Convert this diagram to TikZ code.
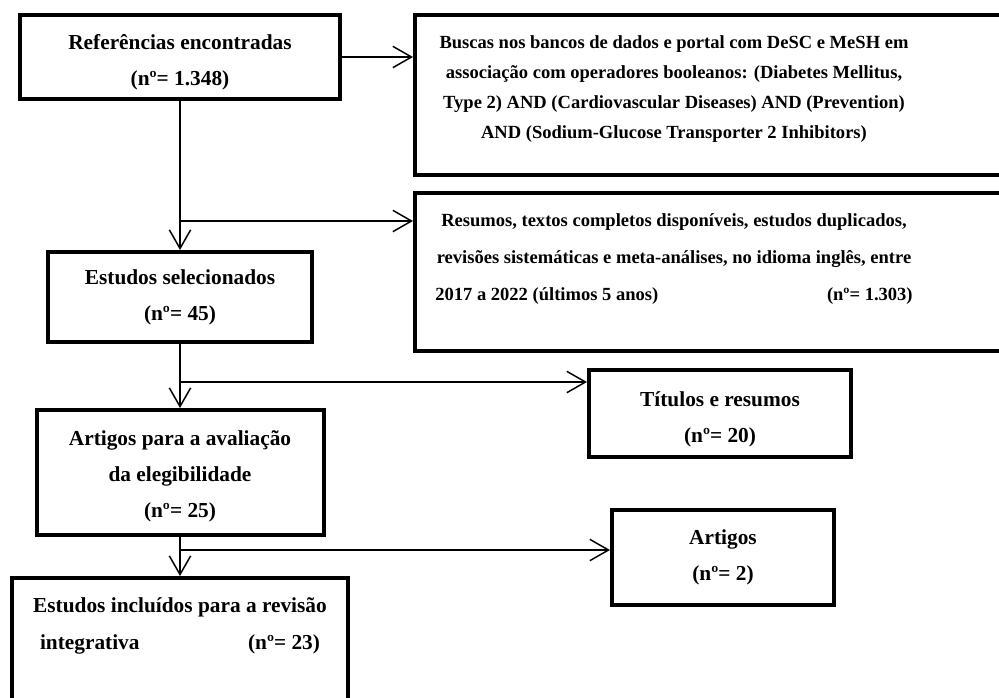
\documentclass[tikz,border=0pt]{standalone}
\usepackage{fontspec}
\setmainfont{Liberation Serif}
\usetikzlibrary{arrows.meta,positioning}
\newcommand{\pxu}{0.75pt}

\begin{document}
\begin{tikzpicture}[x=0.75pt, y=-0.75pt,
    box/.style={draw, line width=3pt, inner sep=0pt, align=center,
        font=\bfseries\fontsize{16}{27}\selectfont},
    widebox/.style={draw, line width=3pt, inner sep=0pt,
        font=\bfseries\fontsize{13.9}{22.5}\selectfont},
    flow/.style={-{Straight Barb[length=14pt,width=16pt]}, line width=1.1pt}]

        \useasboundingbox (0,0) rectangle (999,697);
        \clip (0,0) rectangle (999,697);

        % Left column
        \node[box, minimum width=320*\pxu, minimum height=84*\pxu] (Ref) at (180,57)
            {\rule{0pt}{19.5pt}Referências encontradas\\(nº= 1.348)};
        \node[box, minimum width=264*\pxu, minimum height=90*\pxu] (Sel) at (180,297)
            {Estudos selecionados\\(nº= 45)};
        \node[box, minimum width=287*\pxu, minimum height=125*\pxu] (Eleg) at (180,472.5)
            {\rule{0pt}{17.5pt}Artigos para a avaliação\\da elegibilidade\\(nº= 25)};
        \node[box, minimum width=336*\pxu, minimum height=128*\pxu,
            font=\bfseries\fontsize{16}{27.75}\selectfont] (Incl) at (180,642)
            {Estudos incluídos para a revisão\\
             \makebox[210pt]{integrativa\hfill(nº= 23)}\\ \mbox{}};

        % Right column
        \node[widebox, minimum width=595*\pxu, minimum height=160*\pxu] (Busca) at (712.5,95)
            {\begin{minipage}{358pt}\centering
             Buscas nos bancos de dados e portal com DeSC e MeSH em\\
             associação com operadores booleanos: (Diabetes Mellitus,\\
             Type 2) AND (Cardiovascular Diseases) AND (Prevention)\\
             AND (Sodium-Glucose Transporter 2 Inhibitors)\par
             \vspace{9pt}
             \end{minipage}\hspace*{57.75pt}};
        \node[widebox, minimum width=595*\pxu, minimum height=158*\pxu,
            font=\bfseries\fontsize{13.9}{27.75}\selectfont] (Resumo) at (712.5,272)
            {\begin{minipage}{358pt}\centering
             Resumos, textos completos disponíveis, estudos duplicados,\\
             revisões sistemáticas e meta-análises, no idioma inglês, entre\\
             \makebox[\linewidth]{2017 a 2022 (últimos 5 anos)\hfill(nº= 1.303)}\\[-6pt] \mbox{}
             \end{minipage}\hspace*{57.75pt}};
        \node[box, minimum width=262*\pxu, minimum height=87*\pxu] (Titulo) at (720,413.5)
            {\rule{0pt}{20pt}Títulos e resumos\\(nº= 20)};
        \node[box, minimum width=222*\pxu, minimum height=95*\pxu] (Artigo) at (723,557.5)
            {Artigos\\(nº= 2)};

        % Junctions on the main line
        \coordinate (J1) at (180,221);
        \coordinate (J2) at (180,382);
        \coordinate (J3) at (180,550);

        % Main flow
        \foreach \a/\b in {Ref/Sel, Sel/Eleg, Eleg/Incl}
        {
            \draw[flow] (\a.south) -- (\b.north);
        }

        % Exclusions
        \draw[flow] (Ref.east) -- (Ref.east -| Busca.west);
        \foreach \j/\b in {J1/Resumo, J2/Titulo, J3/Artigo}
        {
            \draw[flow] (\j) -- (\j -| \b.west);
        }

\end{tikzpicture}
\end{document}
